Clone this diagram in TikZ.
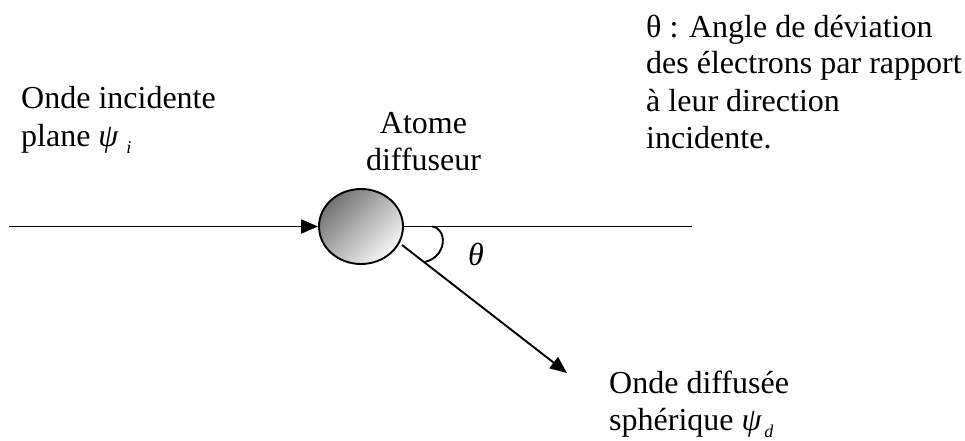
\documentclass[tikz,border=0pt]{standalone}
\usepackage{fontspec}
\setmainfont{Liberation Serif}
\usetikzlibrary{arrows.meta,shapes.geometric}
\newcommand{\psisub}[2][8pt]{{\itshape ψ}\hspace{#1}\raisebox{-7pt}{\fontsize{18}{18}\selectfont\itshape #2}}
\begin{document}
\begin{tikzpicture}[x=1pt,y=-1pt,
  txt/.style={inner sep=0pt, font=\fontsize{32}{37}\selectfont},
  ray/.style={line width=1.9pt},
  tip/.style={-{Triangle[length=17pt,width=14pt]}}]
\useasboundingbox (0,0) rectangle (965,441);
% scattering atom
\node[ellipse, draw, line width=1.9pt, minimum width=84pt, minimum height=75pt, inner sep=0pt,
      top color=black!55, bottom color=black!3, shading angle=45] (atom) at (361,226.5) {};
% connectors
\coordinate (src) at (9,226.5);
\coordinate (fwd) at (692,226.5);
\coordinate (d0) at (402,245);
\coordinate (dtip) at (567,373);
\draw[ray,tip] (src) -- (atom.west);
\draw[ray] (atom.east) -- (fwd);
\draw[ray,tip] (d0) -- (dtip);
% angle mark
\draw[ray] (432,226.5) .. controls (447,228) and (448,256) .. (425,262);
\node[txt] (theta) at (476,254) {\itshape θ};
% texts (anchor = baseline of the last line)
\node[txt, anchor=base west, align=left] (inc) at (21,146) {Onde incidente\\plane \psisub{i}};
\node[txt, anchor=base, align=center] (atomlbl) at (423.5,170) {Atome\\diffuseur};
\node[txt, anchor=base west, align=left] (legend) at (646,148) {θ : Angle de déviation\\des électrons par rapport\\à leur direction\\incidente.};
\node[txt, anchor=base west, align=left] (dif) at (609,430) {Onde diffusée\\sphérique \psisub[3pt]{d}};
\end{tikzpicture}
\end{document}
